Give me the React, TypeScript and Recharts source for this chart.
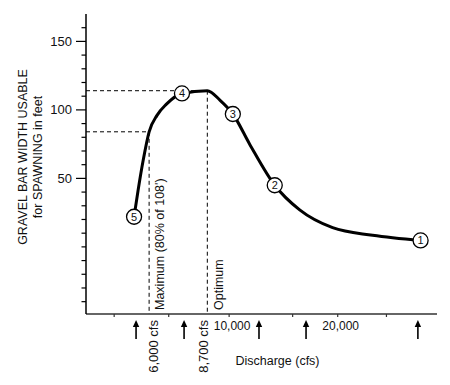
import React from 'react';
import { LineChart, Line, XAxis, YAxis, ReferenceLine, ReferenceDot } from 'recharts';

// curve (discharge in cfs, usable width in feet)
const discharge = [5450, 5590, 5775, 6000, 6310, 6690, 7400, 8700, 9440, 10240, 11400, 13380, 15690, 19360, 25000, 33950];
const gravelWidth = [22, 41, 63, 84, 96, 104, 112, 114, 107, 97, 75, 45, 27, 14, 8.5, 4.7];
// numbered transects sitting on the curve (null = plain curve point)
const station = [5, null, null, null, null, null, 4, null, null, 3, null, 2, null, null, null, 1];

// arrows under the axis
const sampleDischarge = [5520, 7500, 12100, 16340, 33370];

const xTicks = [4800, 6800, 10000, 15000, 20000, 27300];
const xTickLabels: Record<number, string> = { 10000: '10,000', 20000: '20,000' };
const yTicks = [-40, -30, -20, -10, 0, 10, 20, 30, 40, 50, 60, 70, 80, 90, 100, 110, 120, 130, 140, 150, 160];
const yTickLabels = [50, 100, 150];

const maxFlow = 6000;
const maxWidth = 84;
const optFlow = 8700;
const optWidth = 114;

const xDomain = [4010, 37700];
const yDomain = [-49, 170];

const FONT = '"Liberation Sans", Arial, Helvetica, sans-serif';
const INK = '#111';

const rows = discharge.map((q, i) => ({ q, w: gravelWidth[i] }));

const renderStation = (props: any) => {
  const { cx, cy, index } = props;
  const n = station[index];
  if (!n) return <g key={`st-${index}`} />;
  return (
    <g key={`st-${index}`}>
      <circle cx={cx} cy={cy} r={7.5} fill="#fff" stroke="#000" strokeWidth={1.3} />
      <text x={cx} y={cy} dy="0.36em" textAnchor="middle" fontSize={11} fontFamily={FONT} fill={INK}>
        {n}
      </text>
    </g>
  );
};

const renderYTick = (props: any) => {
  const { x, y, payload } = props;
  const major = yTickLabels.includes(payload.value);
  return (
    <g>
      <line x1={x} x2={x - (major ? 10 : 4.5)} y1={y} y2={y} stroke="#000" strokeWidth={1.2} />
      {major && (
        <text x={x - 14} y={y} dy="0.35em" textAnchor="end" fontSize={13} fontFamily={FONT} fill={INK}>
          {payload.value}
        </text>
      )}
    </g>
  );
};

const renderXTick = (props: any) => {
  const { x, y, payload } = props;
  const label = xTickLabels[payload.value];
  return (
    <g>
      <line x1={x} x2={x} y1={y} y2={y + 3} stroke="#333" strokeWidth={1.2} />
      {label && (
        <text x={x + 3} y={y + 16} textAnchor="middle" fontSize={12} fontFamily={FONT} fill={INK}>
          {label}
        </text>
      )}
    </g>
  );
};

const renderYLabel = (props: any) => {
  const { viewBox } = props;
  const cy = viewBox.y + viewBox.height / 2 - 7;
  return (
    <g fontFamily={FONT} fontSize={12.5} fill={INK}>
      <text x={22.5} y={cy} transform={`rotate(-90 22.5 ${cy})`} textAnchor="middle" dominantBaseline="central">
        GRAVEL BAR WIDTH USABLE
      </text>
      <text x={37.5} y={cy} transform={`rotate(-90 37.5 ${cy})`} textAnchor="middle" dominantBaseline="central">
        for SPAWNING in feet
      </text>
    </g>
  );
};

const renderXLabel = (props: any) => {
  const { viewBox } = props;
  return (
    <text
      x={viewBox.x + viewBox.width / 2 + 16}
      y={viewBox.y + 51}
      textAnchor="middle"
      fontSize={12.5}
      fontFamily={FONT}
      fill={INK}
    >
      Discharge (cfs)
    </text>
  );
};

// vertical text beside a dashed line, plus the flow value under the axis
const flowLabel = (inside: string, below: string, offset: number, belowOffset: number) => (props: any) => {
  const { viewBox } = props;
  const x = viewBox.x + offset;
  const bottom = viewBox.y + viewBox.height - 4;
  const bx = viewBox.x + belowOffset;
  const by = viewBox.y + viewBox.height + 6;
  return (
    <g fontFamily={FONT} fill={INK}>
      <text x={x} y={bottom} transform={`rotate(-90 ${x} ${bottom})`} fontSize={12.5} dominantBaseline="central">
        {inside}
      </text>
      <text x={bx} y={by} transform={`rotate(-90 ${bx} ${by})`} fontSize={13} textAnchor="end" dominantBaseline="central">
        {below}
      </text>
    </g>
  );
};

const renderArrow = (props: any) => {
  const { cx, cy } = props;
  return (
    <g>
      <line x1={cx} x2={cx} y1={cy + 10} y2={cy + 25} stroke="#000" strokeWidth={1.6} />
      <path d={`M${cx} ${cy + 6} L${cx - 3.2} ${cy + 13} L${cx + 3.2} ${cy + 13} Z`} fill="#000" />
    </g>
  );
};

const App = () => {
  return (
    <div style={{ position: 'absolute', left: 0, top: 0, width: 450, height: 385, background: '#fff' }}>
      <LineChart width={450} height={385} data={rows} margin={{ top: 14, right: 13, left: 0, bottom: 0 }}>
        <XAxis
          dataKey="q"
          type="number"
          scale="log"
          domain={xDomain}
          allowDataOverflow
          ticks={xTicks}
          interval={0}
          tickSize={0}
          tickMargin={0}
          tickLine={false}
          tick={renderXTick}
          axisLine={{ stroke: '#333', strokeWidth: 1.5 }}
          height={71}
          label={renderXLabel}
        />
        <YAxis
          type="number"
          domain={yDomain}
          allowDataOverflow
          ticks={yTicks}
          interval={0}
          tickSize={0}
          tickMargin={0}
          tickLine={false}
          tick={renderYTick}
          axisLine={{ stroke: '#000', strokeWidth: 1.5 }}
          width={86}
          label={renderYLabel}
        />

        <ReferenceLine
          segment={[{ x: xDomain[0], y: maxWidth }, { x: maxFlow, y: maxWidth }]}
          stroke="#000"
          strokeDasharray="4 3"
          strokeWidth={1}
        />
        <ReferenceLine
          segment={[{ x: maxFlow, y: maxWidth }, { x: maxFlow, y: yDomain[0] }]}
          stroke="#000"
          strokeDasharray="4 3"
          strokeWidth={1}
          label={flowLabel("Maximum (80% of 108')", '6,000 cfs', 11, 4)}
        />
        <ReferenceLine
          segment={[{ x: xDomain[0], y: optWidth }, { x: optFlow, y: optWidth }]}
          stroke="#000"
          strokeDasharray="4 3"
          strokeWidth={1}
        />
        <ReferenceLine
          segment={[{ x: optFlow, y: optWidth }, { x: optFlow, y: yDomain[0] }]}
          stroke="#000"
          strokeDasharray="4 3"
          strokeWidth={1}
          label={flowLabel('Optimum', '8,700 cfs', 12, -4)}
        />

        {sampleDischarge.map((q) => (
          <ReferenceDot key={q} x={q} y={yDomain[0]} ifOverflow="visible" shape={renderArrow} />
        ))}

        <Line
          dataKey="w"
          type="monotone"
          stroke="#000"
          strokeWidth={3}
          dot={renderStation}
          activeDot={false}
          isAnimationActive={false}
        />
      </LineChart>
    </div>
  );
};

export default App;
